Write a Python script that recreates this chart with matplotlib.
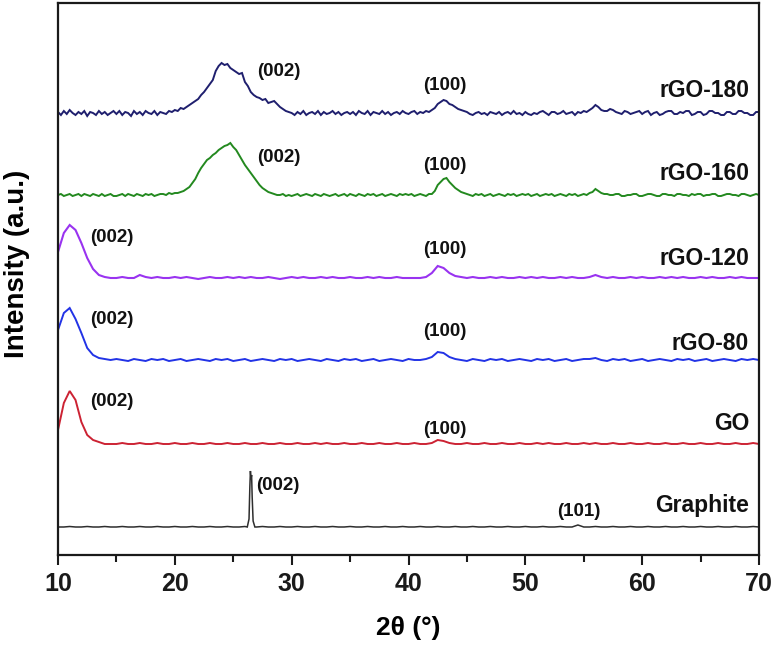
import numpy as np
import matplotlib
matplotlib.use("Agg")
import matplotlib.pyplot as plt
from matplotlib.ticker import MultipleLocator

# ---------------- data ----------------
# sampling grids of 2-theta (deg): 0.5 deg and 0.25 deg steps from 10 to 70
two_theta = 10 + 0.5 * np.arange(121)
two_theta_fine = 10 + 0.25 * np.arange(241)

samples = ["Graphite", "GO", "rGO-80", "rGO-120", "rGO-160", "rGO-180"]
offsets = [28, 111, 195, 277, 360, 442]
colors = ["#2e2e2e", "#cc2233", "#2233e6", "#9933f0", "#23891f", "#1f1f6e"]

# intensities (a.u.) read at each grid point (0.5 deg step)
graphite = [0, 0, 0.5, 0, 0, 0.5, 0, 0, 0.5, 0,
            0, 0.5, 0, 0, 0.5, 0, 0, 0.5, 0, 0,
            0.5, 0, 0, 0.5, 0, 0, 0.5, 0, 0, 0.5,
            0, 0, 0.5, 0, 0, 0.5, 0, 0, 0.5, 0,
            0, 0.5, 0, 0, 0.5, 0, 0, 0.5, 0, 0,
            0.5, 0, 0, 0.5, 0, 0, 0.5, 0, 0, 0.5,
            0, 0, 0.5, 0, 0, 0.5, 0, 0, 0.5, 0,
            0, 0.5, 0, 0, 0.5, 0, 0, 0.5, 0, 0,
            0.5, 0, 0, 0.5, 0, 0, 0.5, 0, 0, 2,
            0, 0, 0.5, 0, 0, 0.5, 0, 0, 0.5, 0,
            0, 0.5, 0, 0, 0.5, 0, 0, 0.5, 0, 0,
            0.5, 0, 0, 0.5, 0, 0, 0.5, 0, 0, 0.5,
            0]
graphite_peak_x = [26.2, 26.35, 26.42, 26.47, 26.52, 26.57, 26.62, 26.7, 26.85]
graphite_peak_h = [0, 8, 40, 56, 48, 52, 30, 6, 0]

go = [14, 41, 53, 44, 22, 9, 4, 2, 0, 0,
      0, 1, 0, 0, 1, 0, 0, 1, 0, 0,
      1, 0, 0, 1, 0, 0, 1, 0, 0, 1,
      0, 0, 1, 0, 0, 1, 0, 0, 1, 0,
      0, 1, 0, 0, 1, 0, 1, 0, 0, 1,
      0, 0, 1, 0, 0, 1, 0, 0, 1, 0,
      0, 1, 0, 0, 1, 4, 3, 1, 0, 0,
      1, 0, 0, 1, 0, 0, 1, 0, 0, 1,
      0, 0, 1, 0, 1, 0, 0, 1, 0, 0,
      1, 0, 1, 0, 0, 1, 0, 0, 1, 0,
      0, 1, 0, 0, 1, 0, 0, 1, 0, 0,
      1, 0, 0, 1, 0, 0, 1, 0, 0, 1,
      0]

rgo80 = [30, 47, 52, 41, 27, 12, 5, 2, 1, 0,
         1, 0, -1, 1, 0, -1, 1, 0, 1, -1,
         0, 1, -1, 0, 1, 0, -1, 1, 0, 1,
         -1, 0, 1, -1, 0, 1, 0, -1, 1, 0,
         1, -1, 0, 1, 0, -1, 1, 0, -1, 1,
         0, 1, -1, 0, 1, -1, 0, 1, 0, -1,
         1, 0, 0, 1, 3, 8, 7, 3, 1, 0,
         -1, 1, 0, -1, 1, 0, 1, -1, 0, 1,
         0, -1, 1, 0, 1, -1, 0, 1, -1, 0,
         1, 1, 2, 0, -1, 1, 0, 1, -1, 0,
         1, -1, 0, 1, 0, -1, 1, 0, 1, -1,
         0, 1, -1, 0, 1, 0, -1, 1, 0, 1,
         0]

rgo120 = [26, 45, 53, 48, 35, 20, 9, 3, 1, 0,
          0, 1, 0, 0, 3, 1, 0, 1, 0, 0,
          1, 0, 1, 0, -1, 0, 1, 0, 0, 1,
          0, 1, 0, 1, 0, 0, 1, 0, -1, 0,
          1, 0, 1, 0, 0, 1, 0, 1, 0, 0,
          1, 0, 0, 1, 0, 1, 0, 0, 1, 0,
          0, 0, 0, 1, 5, 12, 10, 5, 2, 1,
          0, 1, 0, 0, 1, 0, 1, 0, 0, 1,
          0, 1, 0, 1, 0, 0, 1, 0, 1, 0,
          0, 1, 3, 1, 0, 1, 0, 0, 1, 0,
          1, 0, 0, 1, 0, 1, 0, 1, 0, 0,
          1, 0, 1, 0, 0, 1, 0, 1, 0, 0,
          0]

# noisier patterns read at 0.25 deg step
rgo160 = [0, 1, -1, 0, 1, -1, 0, 1, -1, 1, 0, -1, 1, 0, -1, 1, -1, 0, 1, -1,
          -1, 0, 1, -1, 1, 0, -1, 1, 0, -1, 1, 0, 1, -1, 0, 1, 1, 0, 2, 1,
          2, 2, 3, 4, 6, 8, 12, 16, 22, 27, 31, 35, 37, 40, 42, 45, 47, 49, 50, 52,
          48, 45, 40, 35, 30, 26, 22, 18, 14, 10, 7, 5, 3, 2, 1, 0, 0, 1, -1, 0,
          -1, 0, 1, -1, 0, 1, 0, -1, 1, 0, -1, 1, 0, -1, 0, 1, -1, 0, 1, -1,
          1, 0, -1, 1, 0, -1, 1, 0, 1, -1, 0, 1, -1, 0, 1, 0, -1, 1, 0, 1,
          0, 1, -1, 0, 1, 0, -1, 1, 1, 4, 10, 13, 16, 17, 13, 10, 7, 5, 3, 2,
          1, 0, -1, 1, 0, 1, -1, 0, 1, -1, 0, 1, 0, -1, 1, 0, 1, -1, 0, 1,
          0, 1, -1, 0, 1, -1, 0, 1, 0, 1, -1, 0, 1, 0, -1, 1, 0, 1, -1, 0,
          1, 0, 2, 3, 6, 4, 2, 1, 1, 0, 0, 1, 1, -1, -1, 0, 0, 1, 1, -1,
          -1, 0, 1, 1, 0, -1, -1, 1, 1, 0, 0, -1, 1, 1, 0, 0, -1, 1, 0, 1,
          1, -1, 0, 0, 1, 1, -1, -1, 0, 1, 1, 0, 0, -1, 1, 1, 0, -1, 0, 1,
          0]

rgo180 = [1, -2, 2, -1, 3, 0, -2, 1, -1, 2, -3, 1, 0, -2, 2, -1, 1, -2, 0, 2,
          -1, 2, -2, 1, 0, -3, 2, -1, 1, -2, 2, 0, -1, 2, -2, 1, 0, -1, 2, 1,
          3, 2, 5, 4, 6, 8, 10, 12, 14, 18, 21, 25, 29, 33, 42, 47, 50, 48, 49, 45,
          43, 41, 39, 40, 31, 27, 21, 18, 16, 15, 13, 14, 10, 11, 12, 9, 6, 4, 2, 1,
          0, -2, 1, -1, 2, -2, 0, 1, -1, 2, -2, 1, -1, 0, 2, -1, 1, -2, 0, 1,
          -1, 1, -2, 2, 0, -1, 2, -2, 1, 0, -1, 2, -1, 1, -2, 0, 1, -1, 2, 0,
          -1, 1, 2, -1, 1, 0, 2, 1, 3, 5, 9, 11, 13, 12, 9, 8, 6, 4, 3, 2,
          1, -1, -2, 0, 1, -1, 0, -2, 1, 0, -1, 1, -2, 0, 1, -1, 2, -1, 0, -2,
          1, -1, -2, 0, -1, 1, 2, 0, -2, 1, 1, -1, 0, 2, -1, 0, 1, -2, 1, 0,
          2, 1, 3, 5, 8, 6, 3, 2, 2, 4, 3, 1, 0, -1, 2, 1, -1, 0, 1, 2,
          -1, 1, 2, -2, 0, 1, -2, -1, 1, 2, 2, -1, -1, 1, 0, 2, 2, -2, -1, 1,
          1, -2, -1, 2, 2, 0, 0, -2, -2, 1, 1, -1, -1, 2, 2, 0, 0, -2, -2, 1,
          1]

series = [graphite, go, rgo80, rgo120, rgo160, rgo180]
fine = [False, False, False, False, True, True]
widths = [1.1, 1.4, 1.4, 1.5, 1.4, 1.4]

# peak labels
ann_text = ["(002)", "(101)",
            "(002)", "(100)",
            "(002)", "(100)",
            "(002)", "(100)",
            "(002)", "(100)",
            "(002)", "(100)"]
ann_x = [28.8, 54.6,
         14.6, 43.1,
         14.6, 43.1,
         14.6, 43.1,
         28.9, 43.1,
         28.9, 43.1]
ann_y = [70, 43,
         153, 126,
         235, 223,
         317, 305,
         397, 390,
         483, 470]

# series name positions (right aligned, baseline)
name_x = 69.15
name_y = [43, 125, 205, 290, 375, 458]

# ---------------- figure ----------------
plt.rcParams["font.family"] = ["Liberation Sans", "DejaVu Sans"]
fig = plt.figure(figsize=(7.74, 6.45), dpi=100)
ax = fig.add_axes([58 / 774, 1 - 555 / 645, (759 - 58) / 774, (555 - 3) / 645])

for i, (vals, off, col) in enumerate(zip(series, offsets, colors)):
    x = (two_theta_fine if fine[i] else two_theta).copy()
    h = np.asarray(vals, dtype=float)
    if i == 0:
        px = np.asarray(graphite_peak_x)
        ph = np.asarray(graphite_peak_h, dtype=float)
        keep = (x < px.min()) | (x > px.max())
        x = np.concatenate([x[keep], px])
        h = np.concatenate([h[keep], ph])
        order = np.argsort(x)
        x, h = x[order], h[order]
    ax.plot(x, off + h, color=col, lw=widths[i], solid_joinstyle="miter")

for t, xx, yy in zip(ann_text, ann_x, ann_y):
    ax.text(xx, yy, t, ha="center", va="center", fontsize=13.5,
            fontweight="bold", color="#111111")

for name, yy in zip(samples, name_y):
    ax.text(name_x, yy, name, ha="right", va="baseline", fontsize=16.5,
            fontweight="bold", color="#111111")

ax.set_xlim(10, 70)
ax.set_ylim(0, 552)
ax.set_yticks([])
ax.xaxis.set_major_locator(MultipleLocator(10))
ax.xaxis.set_minor_locator(MultipleLocator(5))
ax.tick_params(axis="x", which="major", direction="out", length=7.5, width=1.5,
               pad=5, colors="#1a1a1a")
ax.tick_params(axis="x", which="minor", direction="out", length=5, width=1.5,
               colors="#1a1a1a")
for lab in ax.get_xticklabels():
    lab.set_fontweight("bold")
    lab.set_fontsize(18)
for sp in ax.spines.values():
    sp.set_linewidth(1.6)
    sp.set_color("#1a1a1a")

fig.text(408 / 774, 1 - 628 / 645, "2θ (°)", ha="center", va="center",
         fontsize=19, fontweight="bold")
fig.text(17 / 774, 1 - 264 / 645, "Intensity (a.u.)", ha="center", va="center",
         rotation=90, fontsize=20, fontweight="bold")

fig.savefig("out.png", dpi=100)
